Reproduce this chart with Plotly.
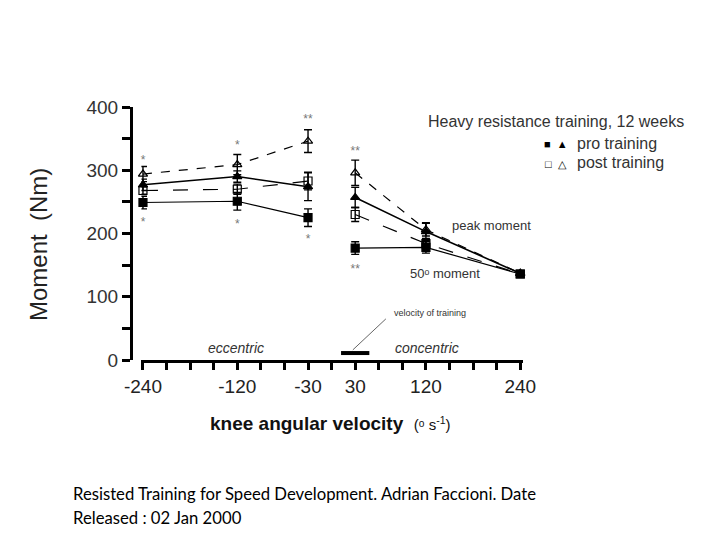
import plotly.graph_objects as go

# ---- data ----
velocity = [-240, -120, -30, 30, 120, 240]
pre_peak = [277, 290, 274, 257, 203, 137]
pre_peak_err = [9, 9, 22, 16, 14, 3]
post_peak = [294, 309, 346, 296, 206, 137]
post_peak_err = [12, 16, 18, 20, 10, 3]
pre_50 = [249, 251, 225, 177, 178, 136]
pre_50_err = [10, 14, 14, 10, 9, 3]
post_50 = [268, 270, 283, 230, 184, 136]
post_50_err = [6, 8, 14, 11, 8, 3]

x_minor_vals = list(range(-240, 241, 30))
x_label_vals = [-240, -120, -30, 30, 120, 240]
x_label_text = ['-240', '-120', '-30', '30', '120', '240']
y_minor_vals = list(range(0, 401, 50))
y_label_vals = [0, 100, 200, 300, 400]
y_label_text = ['0', '100', '200', '300', '400']

sig_above_x = [-240, -120, -30, 30]
sig_above_y = [315, 339, 379, 329]
sig_above_text = ['*', '*', '**', '**']
sig_below_x = [-240, -120, -30, 30]
sig_below_y = [217, 214, 190, 143]
sig_below_text = ['*', '*', '*', '**']

training_bar_x = [12, 48]
training_bar_y = [11, 11]
pointer_x = [27, 69]
pointer_y = [16, 65]


def gap(vals):
    # break the line between the eccentric and concentric sections
    return list(vals[:3]) + [None] + list(vals[3:])


xg = gap(velocity)

fig = go.Figure()


def add_series(y, err, symbol, dash, width, name):
    fig.add_trace(go.Scatter(
        x=xg, y=gap(y), mode='lines+markers', name=name,
        line=dict(color='black', width=width, dash=dash),
        marker=dict(symbol=symbol, size=8, color='black',
                    line=dict(color='black', width=1.2)),
        error_y=dict(type='data', array=gap(err), visible=True,
                     color='black', thickness=1.4, width=4),
        connectgaps=False, showlegend=False, cliponaxis=False,
    ))


add_series(post_50, post_50_err, 'square-open', 'longdash', 1.2, 'post 50')
add_series(pre_50, pre_50_err, 'square', 'solid', 1.2, 'pre 50')
add_series(post_peak, post_peak_err, 'triangle-up-open', 'dash', 1.2, 'post peak')
add_series(pre_peak, pre_peak_err, 'triangle-up', 'solid', 1.6, 'pre peak')

fig.add_trace(go.Scatter(
    x=sig_above_x + sig_below_x, y=sig_above_y + sig_below_y,
    text=sig_above_text + sig_below_text, mode='text',
    textfont=dict(family='Liberation Sans', size=12, color='#777'),
    showlegend=False, cliponaxis=False))

fig.add_trace(go.Scatter(
    x=training_bar_x, y=training_bar_y, mode='lines',
    line=dict(color='black', width=4), showlegend=False, cliponaxis=False))
fig.add_trace(go.Scatter(
    x=pointer_x, y=pointer_y, mode='lines',
    line=dict(color='#666', width=1), showlegend=False, cliponaxis=False))

W, H = 720, 540


def px(x):
    return x / W


def py(y):
    return 1 - y / H


fig.update_layout(
    template='none', showlegend=False, autosize=False,
    width=W, height=H, margin=dict(l=0, r=0, t=0, b=0, pad=0, autoexpand=False),
    paper_bgcolor='white', plot_bgcolor='white',
    font=dict(family='Liberation Sans', color='#222'),
    xaxis=dict(
        domain=[px(141.4), px(523.4)], range=[-242, 244], anchor='y', automargin=False,
        showgrid=False, zeroline=False, showline=True, linecolor='black', linewidth=3,
        ticks='outside', ticklen=7, tickwidth=2.5, tickcolor='black', tickangle=0,
        tickmode='array', tickvals=x_label_vals, ticktext=x_label_text,
        minor=dict(tickmode='array', tickvals=x_minor_vals, ticks='outside',
                   ticklen=7, tickwidth=2.5, tickcolor='black', showgrid=False),
        tickfont=dict(size=19, color='#222'),
    ),
    yaxis=dict(
        domain=[py(360), py(107)], range=[0, 400], anchor='free', position=px(131),
        automargin=False,
        showgrid=False, zeroline=False, showline=True, linecolor='black', linewidth=3,
        ticks='outside', ticklen=8, tickwidth=2.5, tickcolor='black',
        tickmode='array', tickvals=y_label_vals, ticktext=y_label_text,
        minor=dict(tickmode='array', tickvals=y_minor_vals, ticks='outside',
                   ticklen=8, tickwidth=2.5, tickcolor='black', showgrid=False),
        tickfont=dict(size=19, color='#333'),
    ),
)

ann = []
ann.append(dict(x=px(38), y=py(245), xref='paper', yref='paper', text='Moment  (Nm)',
                textangle=-90, showarrow=False, font=dict(size=24, color='#222'),
                xanchor='center', yanchor='middle'))
ann.append(dict(x=px(208), y=py(423), xref='paper', yref='paper',
                text="<b>knee angular velocity</b>  <span style='font-size:15px'>(ᵒ s<sup>-1</sup>)</span>",
                showarrow=False, font=dict(size=19, color='#111'),
                xanchor='left', yanchor='middle'))
ann.append(dict(x=px(556), y=py(121), xref='paper', yref='paper',
                text='Heavy resistance training, 12 weeks', showarrow=False,
                font=dict(size=16, color='#333'), xanchor='center', yanchor='middle'))
ann.append(dict(x=px(556), y=py(144), xref='paper', yref='paper',
                text='■  ▲', showarrow=False,
                font=dict(size=11, color='black'), xanchor='center', yanchor='middle'))
ann.append(dict(x=px(556), y=py(164), xref='paper', yref='paper',
                text='□  △', showarrow=False,
                font=dict(size=11, color='black'), xanchor='center', yanchor='middle'))
ann.append(dict(x=px(575), y=py(143), xref='paper', yref='paper',
                text='pro training', showarrow=False,
                font=dict(size=16, color='#333'), xanchor='left', yanchor='middle'))
ann.append(dict(x=px(575), y=py(163), xref='paper', yref='paper',
                text='post training', showarrow=False,
                font=dict(size=16, color='#333'), xanchor='left', yanchor='middle'))
ann.append(dict(x=px(491), y=py(225), xref='paper', yref='paper', text='peak moment',
                showarrow=False, font=dict(size=13, color='#333'), xanchor='center', yanchor='middle'))
ann.append(dict(x=px(445), y=py(273), xref='paper', yref='paper', text='50ᵒ moment',
                showarrow=False, font=dict(size=13, color='#333'), xanchor='center', yanchor='middle'))
ann.append(dict(x=px(236), y=py(348), xref='paper', yref='paper', text='<i>eccentric</i>',
                showarrow=False, font=dict(size=14, color='#333'), xanchor='center', yanchor='middle'))
ann.append(dict(x=px(427), y=py(348), xref='paper', yref='paper', text='<i>concentric</i>',
                showarrow=False, font=dict(size=14, color='#333'), xanchor='center', yanchor='middle'))
ann.append(dict(x=px(392), y=py(313), xref='paper', yref='paper', text='velocity of training',
                showarrow=False, font=dict(size=9, color='#333'), xanchor='left', yanchor='middle'))
ann.append(dict(x=px(71), y=py(494), xref='paper', yref='paper',
                text='Resisted Training for Speed Development. Adrian Faccioni. Date',
                showarrow=False, font=dict(family='Lato', size=16.7, color='black'),
                xanchor='left', yanchor='middle'))
ann.append(dict(x=px(71), y=py(518), xref='paper', yref='paper',
                text='Released : 02 Jan 2000',
                showarrow=False, font=dict(family='Lato', size=16.7, color='black'),
                xanchor='left', yanchor='middle'))
fig.update_layout(annotations=ann)

fig.write_html('out.html')
